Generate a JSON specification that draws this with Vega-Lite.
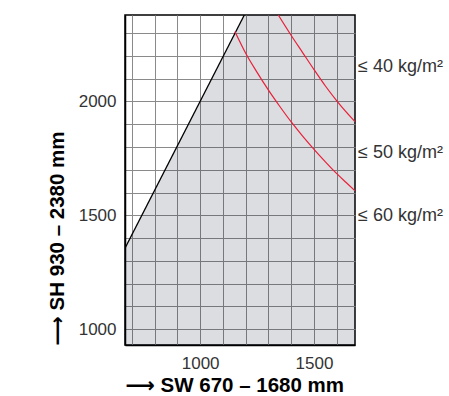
{
  "$schema": "https://vega.github.io/schema/vega-lite/v6.json",
  "width": 230,
  "height": 330,
  "autosize": {"type": "none"},
  "padding": {"left": 125, "top": 15, "right": 94, "bottom": 51},
  "background": "white",
  "config": {
    "view": {"stroke": "black", "strokeWidth": 1.5},
    "font": "Liberation Sans",
    "axis": {
      "grid": true,
      "gridColor": "#8a8a8a",
      "gridWidth": 1,
      "ticks": false,
      "domainColor": "black",
      "domainWidth": 1.5,
      "labelFont": "Liberation Sans",
      "labelFontSize": 17,
      "labelColor": "#333333",
      "titleFont": "Liberation Sans, DejaVu Sans",
      "titleFontWeight": "bold",
      "titleColor": "black"
    }
  },
  "encoding": {
    "x": {
      "field": "sw",
      "type": "quantitative",
      "scale": {"domain": [670, 1680], "nice": false, "zero": false},
      "axis": {
        "values": [700, 800, 900, 1000, 1100, 1200, 1300, 1400, 1500, 1600],
        "labelExpr": "datum.value % 500 == 0 ? format(datum.value, 'd') : ''",
        "labelPadding": 10,
        "title": "⟶ SW 670 – 1680 mm",
        "titleFontSize": 20.5,
        "titleAnchor": "start",
        "titlePadding": 4
      }
    },
    "y": {
      "field": "sh",
      "type": "quantitative",
      "scale": {"domain": [930, 2380], "nice": false, "zero": false},
      "axis": {
        "values": [1000, 1100, 1200, 1300, 1400, 1500, 1600, 1700, 1800, 1900, 2000, 2100, 2200, 2300],
        "labelExpr": "datum.value % 500 == 0 ? format(datum.value, 'd') : ''",
        "labelPadding": 9,
        "title": "⟶  SH 930 – 2380 mm",
        "titleFontSize": 20.5,
        "titleAnchor": "start",
        "titlePadding": 11
      }
    }
  },
  "layer": [
    {
      "data": {"values": [
        {"sw": 670, "sh": 1355},
        {"sw": 1194, "sh": 2380},
        {"sw": 1680, "sh": 2380}
      ]},
      "mark": {"type": "area", "color": "#050c21", "opacity": 0.14, "clip": true},
      "encoding": {"y2": {"datum": 930}}
    },
    {
      "data": {"values": [
        {"sw": 670, "sh": 1355},
        {"sw": 1194, "sh": 2380}
      ]},
      "mark": {"type": "line", "color": "black", "strokeWidth": 1.3, "clip": true}
    },
    {
      "data": {"values": [
        {"c": "40", "sw": 1343, "sh": 2380},
        {"c": "40", "sw": 1400, "sh": 2290},
        {"c": "40", "sw": 1450, "sh": 2215},
        {"c": "40", "sw": 1500, "sh": 2140},
        {"c": "40", "sw": 1550, "sh": 2068},
        {"c": "40", "sw": 1600, "sh": 2003},
        {"c": "40", "sw": 1640, "sh": 1955},
        {"c": "40", "sw": 1680, "sh": 1911},
        {"c": "50", "sw": 1153, "sh": 2307},
        {"c": "50", "sw": 1200, "sh": 2212},
        {"c": "50", "sw": 1250, "sh": 2128},
        {"c": "50", "sw": 1300, "sh": 2050},
        {"c": "50", "sw": 1350, "sh": 1978},
        {"c": "50", "sw": 1400, "sh": 1910},
        {"c": "50", "sw": 1450, "sh": 1848},
        {"c": "50", "sw": 1500, "sh": 1790},
        {"c": "50", "sw": 1550, "sh": 1735},
        {"c": "50", "sw": 1600, "sh": 1683},
        {"c": "50", "sw": 1640, "sh": 1645},
        {"c": "50", "sw": 1680, "sh": 1608}
      ]},
      "mark": {"type": "line", "color": "#e8203a", "strokeWidth": 1.2, "interpolate": "monotone", "clip": true},
      "encoding": {"detail": {"field": "c"}}
    },
    {
      "data": {"values": [
        {"label": "≤ 40 kg/m²", "sw": 1680, "sh": 2150},
        {"label": "≤ 50 kg/m²", "sw": 1680, "sh": 1773},
        {"label": "≤ 60 kg/m²", "sw": 1680, "sh": 1495}
      ]},
      "mark": {"type": "text", "align": "left", "baseline": "middle", "dx": 3, "fontSize": 18, "color": "#333333", "clip": false},
      "encoding": {"text": {"field": "label", "type": "nominal"}}
    }
  ]
}
